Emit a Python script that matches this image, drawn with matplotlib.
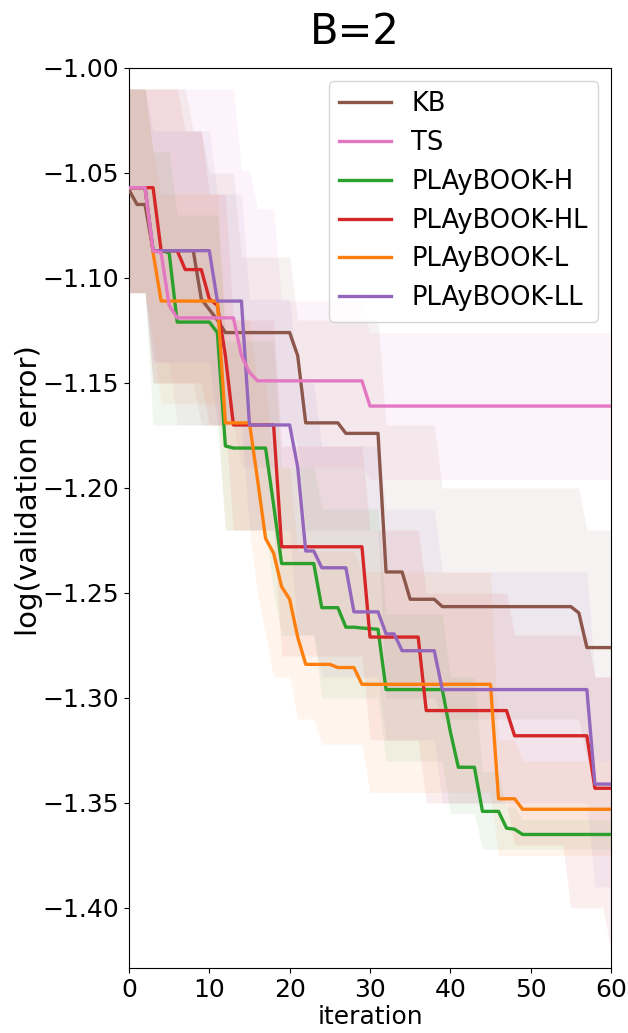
import numpy as np
import matplotlib
matplotlib.use("Agg")
import matplotlib.pyplot as plt

iterations = np.arange(61)

# best log(validation error) found so far, per method
kb_mean = [
    -1.058, -1.065, -1.065, -1.087, -1.087, -1.087, -1.087, -1.087, -1.087, -1.110,
    -1.115, -1.120, -1.126, -1.126, -1.126, -1.126, -1.126, -1.126, -1.126, -1.126,
    -1.126, -1.137, -1.169, -1.169, -1.169, -1.169, -1.169, -1.174, -1.174, -1.174,
    -1.174, -1.174, -1.240, -1.240, -1.240, -1.253, -1.253, -1.253, -1.253, -1.2565,
    -1.2565, -1.2565, -1.2565, -1.2565, -1.2565, -1.2565, -1.2565, -1.2565, -1.2565, -1.2565,
    -1.2565, -1.2565, -1.2565, -1.2565, -1.2565, -1.2565, -1.2595, -1.276, -1.276, -1.276,
    -1.276,
]
ts_mean = [
    -1.057, -1.057, -1.057, -1.087, -1.088, -1.113, -1.119, -1.119, -1.119, -1.119,
    -1.119, -1.119, -1.119, -1.119, -1.137, -1.145, -1.149, -1.149, -1.149, -1.149,
    -1.149, -1.149, -1.149, -1.149, -1.149, -1.149, -1.149, -1.149, -1.149, -1.149,
    -1.161, -1.161, -1.161, -1.161, -1.161, -1.161, -1.161, -1.161, -1.161, -1.161,
    -1.161, -1.161, -1.161, -1.161, -1.161, -1.161, -1.161, -1.161, -1.161, -1.161,
    -1.161, -1.161, -1.161, -1.161, -1.161, -1.161, -1.161, -1.161, -1.161, -1.161,
    -1.161,
]
h_mean = [
    -1.057, -1.057, -1.057, -1.087, -1.087, -1.088, -1.121, -1.121, -1.121, -1.121,
    -1.121, -1.126, -1.180, -1.181, -1.181, -1.181, -1.181, -1.181, -1.208, -1.236,
    -1.236, -1.236, -1.236, -1.236, -1.257, -1.257, -1.257, -1.2663, -1.2663, -1.2667,
    -1.2670, -1.2673, -1.296, -1.296, -1.296, -1.296, -1.296, -1.296, -1.296, -1.296,
    -1.316, -1.333, -1.333, -1.333, -1.354, -1.354, -1.354, -1.362, -1.3625, -1.365,
    -1.365, -1.365, -1.365, -1.365, -1.365, -1.365, -1.365, -1.365, -1.365, -1.365,
    -1.365,
]
hl_mean = [
    -1.057, -1.057, -1.057, -1.057, -1.087, -1.087, -1.087, -1.096, -1.096, -1.096,
    -1.110, -1.113, -1.137, -1.170, -1.170, -1.170, -1.170, -1.170, -1.170, -1.228,
    -1.228, -1.228, -1.228, -1.228, -1.228, -1.228, -1.228, -1.228, -1.228, -1.228,
    -1.271, -1.271, -1.271, -1.271, -1.271, -1.271, -1.271, -1.306, -1.306, -1.306,
    -1.306, -1.306, -1.306, -1.306, -1.306, -1.306, -1.306, -1.306, -1.318, -1.318,
    -1.318, -1.318, -1.318, -1.318, -1.318, -1.318, -1.318, -1.318, -1.343, -1.343,
    -1.343,
]
l_mean = [
    -1.057, -1.057, -1.057, -1.088, -1.111, -1.111, -1.111, -1.111, -1.111, -1.111,
    -1.111, -1.111, -1.169, -1.169, -1.169, -1.169, -1.196, -1.224, -1.231, -1.247,
    -1.253, -1.271, -1.284, -1.284, -1.284, -1.284, -1.2855, -1.2855, -1.2855, -1.2935,
    -1.2935, -1.2935, -1.2935, -1.2935, -1.2935, -1.2935, -1.2935, -1.2935, -1.2935, -1.2935,
    -1.2935, -1.2935, -1.2935, -1.2935, -1.2935, -1.2935, -1.348, -1.348, -1.348, -1.353,
    -1.353, -1.353, -1.353, -1.353, -1.353, -1.353, -1.353, -1.353, -1.353, -1.353,
    -1.353,
]
ll_mean = [
    -1.057, -1.057, -1.057, -1.087, -1.087, -1.087, -1.087, -1.087, -1.087, -1.087,
    -1.087, -1.111, -1.111, -1.111, -1.111, -1.170, -1.170, -1.170, -1.170, -1.170,
    -1.170, -1.190, -1.230, -1.230, -1.238, -1.238, -1.238, -1.238, -1.259, -1.259,
    -1.259, -1.259, -1.2695, -1.2695, -1.2775, -1.2775, -1.2775, -1.2775, -1.2775, -1.296,
    -1.296, -1.296, -1.296, -1.296, -1.296, -1.296, -1.296, -1.296, -1.296, -1.296,
    -1.296, -1.296, -1.296, -1.296, -1.296, -1.296, -1.296, -1.296, -1.341, -1.341,
    -1.341,
]

# spread over runs, as (value, number of iterations) runs
kb_upper = [(-1.01, 8), (-1.03, 2), (-1.05, 4), (-1.09, 7), (-1.12, 11), (-1.17, 7), (-1.20, 18), (-1.22, 4)]
kb_lower = [(-1.107, 3), (-1.15, 6), (-1.17, 12), (-1.18, 1), (-1.22, 10), (-1.30, 7), (-1.31, 18), (-1.33, 4)]
ts_upper = [(-1.01, 14), (-1.049, 2), (-1.067, 3), (-1.111, 11), (-1.126, 31)]
ts_lower = [(-1.107, 3), (-1.14, 3), (-1.17, 8), (-1.19, 16), (-1.196, 31)]
h_upper = [(-1.01, 3), (-1.04, 3), (-1.07, 6), (-1.13, 7), (-1.19, 5), (-1.21, 8), (-1.26, 8), (-1.29, 4),
           (-1.335, 3), (-1.352, 2), (-1.358, 12)]
h_lower = [(-1.107, 3), (-1.17, 9), (-1.22, 6), (-1.25, 1), (-1.27, 5), (-1.30, 8), (-1.33, 8), (-1.355, 4),
           (-1.372, 17)]
hl_upper = [(-1.01, 7), (-1.03, 3), (-1.06, 3), (-1.12, 6), (-1.18, 11), (-1.22, 7), (-1.25, 11), (-1.27, 10),
            (-1.29, 3)]
hl_lower = [(-1.107, 3), (-1.15, 7), (-1.17, 3), (-1.22, 6), (-1.28, 11), (-1.32, 7), (-1.35, 11), (-1.37, 7),
            (-1.40, 5), (-1.42, 1)]
l_upper = [(-1.01, 3), (-1.04, 1), (-1.06, 8), (-1.12, 4), (-1.15, 2), (-1.19, 3), (-1.23, 8), (-1.24, 17),
           (-1.32, 3), (-1.33, 12)]
l_lower = [(-1.107, 3), (-1.13, 1), (-1.16, 8), (-1.22, 4), (-1.25, 1), (-1.27, 1), (-1.29, 3), (-1.31, 3),
           (-1.322, 6), (-1.345, 16), (-1.375, 15)]
ll_upper = [(-1.01, 3), (-1.03, 8), (-1.06, 4), (-1.11, 6), (-1.15, 3), (-1.18, 8), (-1.21, 7), (-1.24, 19),
            (-1.29, 3)]
ll_lower = [(-1.107, 3), (-1.14, 8), (-1.17, 4), (-1.22, 6), (-1.27, 3), (-1.29, 8), (-1.32, 7), (-1.35, 19),
            (-1.39, 3)]

labels = ['KB', 'TS', 'PLAyBOOK-H', 'PLAyBOOK-HL', 'PLAyBOOK-L', 'PLAyBOOK-LL']
colors = ['#8c564b', '#e377c2', '#2ca02c', '#d62728', '#ff7f0e', '#9467bd']
means = [kb_mean, ts_mean, h_mean, hl_mean, l_mean, ll_mean]
uppers = [kb_upper, ts_upper, h_upper, hl_upper, l_upper, ll_upper]
lowers = [kb_lower, ts_lower, h_lower, hl_lower, l_lower, ll_lower]
# TS goes on top, the rest in legend order
zorders = [3, 9, 4, 5, 6, 7]


def expand(runs):
    vals, counts = zip(*runs)
    return np.repeat(vals, counts)


fig = plt.figure(figsize=(6.28, 10.33), dpi=100)
ax = fig.add_axes([0.2054, 0.0629, 0.7675, 0.8713])

handles = []
for lab, col, m, up, lo, z in zip(labels, colors, means, uppers, lowers, zorders):
    ax.fill_between(iterations, expand(lo), expand(up), color=col, alpha=0.075, linewidth=0, zorder=1)
    line, = ax.plot(iterations, m, color=col, linewidth=2.4, label=lab, zorder=z)
    handles.append(line)

ax.set_xlim(0, 60)
ax.set_ylim(-1.4286, -1.0)
ax.set_xticks(np.arange(0, 61, 10))
ax.set_yticks(np.arange(-1.40, -0.999, 0.05))
ax.yaxis.set_major_formatter(plt.FuncFormatter(lambda v, pos: f'{v:.2f}'.replace('-', '\u2212')))
ax.tick_params(labelsize=18)
ax.set_xlabel('iteration', fontsize=18, labelpad=2)
ax.set_ylabel('log(validation error)', fontsize=21)
ax.yaxis.set_label_coords(-0.178, 0.53)
ax.set_title('B=2', fontsize=30, pad=17, x=0.468)
ax.legend(handles=handles, loc='upper right', fontsize=18.5)

fig.savefig('out.png', dpi=100)
